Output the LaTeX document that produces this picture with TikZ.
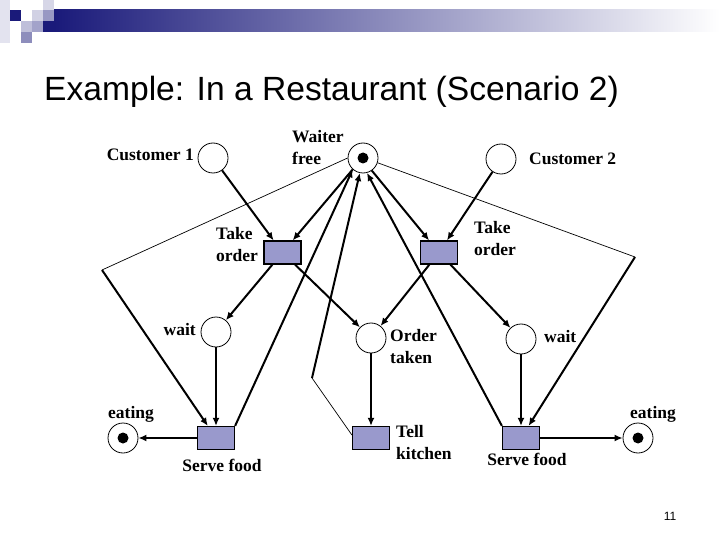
\documentclass[tikz,border=0pt]{standalone}
\usepackage{fontspec}
\setmainfont{Liberation Serif}
\newfontfamily\titlefont{Liberation Sans}
\usetikzlibrary{arrows.meta}
\definecolor{petri}{RGB}{153,153,204}
\definecolor{navy}{RGB}{26,26,122}

\begin{document}
\begin{tikzpicture}[x=1pt,y=-1pt,
    place/.style={circle,draw,line width=0.8pt,minimum size=30pt,inner sep=0pt},
    trans/.style={rectangle,draw,line width=1.2pt,fill=petri,minimum width=37pt,minimum height=23pt,inner sep=0pt},
    token/.style={circle,fill=black,minimum size=11pt,inner sep=0pt},
    arc/.style={line width=2pt,-{Latex[length=8pt,width=7pt]}},
    link/.style={line width=0.7pt},
    lbl/.style={font=\fontsize{17.5}{22}\selectfont\bfseries,align=left,inner sep=0pt}]
    \useasboundingbox (0,0) rectangle (720,540);

    % header
    \shade [left color=navy,right color=white] (54,10) rectangle (720,32);
    \fill [navy] (43,21) rectangle (54,32);
    \fill [navy!12] (0,0) rectangle (10,43);
    \foreach \x/\y/\c in {10/10/navy, 32/10/navy!20, 21/21/navy!28, 32/21/navy!40,
                          21/32/navy!50, 43/0/navy!18, 43/10/navy!45} {
        \fill [\c] (\x,\y) rectangle ++(11,11);
    }
    \node [anchor=west,inner sep=0pt,font=\titlefont\fontsize{33.6}{40}\selectfont] (title) at (44,92)
        {Example: In a Restaurant (Scenario 2)};

    % places
    \node [place] (c1) at (213,158) {};
    \node [place] (wf) at (363,158) {};
    \node [place] (c2) at (501,159) {};
    \node [place] (waitL) at (216,332) {};
    \node [place] (ot) at (371,338) {};
    \node [place] (waitR) at (521,339) {};
    \node [place] (eatL) at (123,438) {};
    \node [place] (eatR) at (638,438) {};
    \node [token] (tokW) at (wf) {};
    \node [token] (tokL) at (eatL) {};
    \node [token] (tokR) at (eatR) {};

    % transitions
    \node [trans] (toL) at (282.5,252.5) {};
    \node [trans] (toR) at (439,252.5) {};
    \node [trans] (sfL) at (216,438) {};
    \node [trans] (tk) at (371,438) {};
    \node [trans] (sfR) at (521,438) {};

    \coordinate (bendL) at (102,270);
    \coordinate (bendM) at (312,378);
    \coordinate (bendR) at (635,257);

    % arcs
    \draw [arc] (c1) -- (toL);
    \draw [arc] (wf.-132) -- (toL);
    \draw [arc] (c2) -- (toR);
    \draw [arc] (wf.-55) -- (toR);
    \draw [arc] (toL) -- (waitL);
    \draw [arc] (toL) -- (ot);
    \draw [arc] (toR) -- (ot);
    \draw [arc] (toR) -- (waitR);
    \draw [arc] (waitL) -- (sfL);
    \draw [arc] (ot) -- (tk);
    \draw [arc] (waitR) -- (sfR);
    \draw [arc] (sfL) -- (eatL);
    \draw [arc] (sfR) -- (eatR);
    \draw [arc] (sfL.north east) -- (wf.-132);
    \draw [arc] (sfR.north west) -- (wf.-75);
    \draw [link] ([yshift=3pt]tk.west) -- (bendM);
    \draw [arc] (bendM) -- (wf.-102);
    \draw [link] (wf.180) -- (bendL);
    \draw [arc] (bendL) -- (sfL);
    \draw [link] (wf.-18) -- (bendR);
    \draw [arc] (bendR) -- (sfR);

    % labels
    \node [lbl,anchor=east] (lc1) at (194,155) {Customer 1};
    \node [lbl,anchor=west] (lwf) at (292,148) {Waiter\\free};
    \node [lbl,anchor=west] (lc2) at (529,159) {Customer 2};
    \node [lbl,anchor=west] (ltoL) at (216,245) {Take\\order};
    \node [lbl,anchor=west] (ltoR) at (474,239) {Take\\order};
    \node [lbl,anchor=east] (lwaitL) at (196,330) {wait};
    \node [lbl,anchor=west] (lot) at (390,347) {Order\\taken};
    \node [lbl,anchor=west] (lwaitR) at (544,337) {wait};
    \node [lbl] (leatL) at (131,414) {eating};
    \node [lbl] (leatR) at (653,414) {eating};
    \node [lbl] (lsfL) at (222,465) {Serve food};
    \node [lbl,anchor=west] (ltk) at (396,443) {Tell\\kitchen};
    \node [lbl] (lsfR) at (527,459) {Serve food};
    \node [inner sep=0pt,font=\titlefont\fontsize{12}{14}\selectfont] (page) at (670,516) {11};
\end{tikzpicture}
\end{document}
